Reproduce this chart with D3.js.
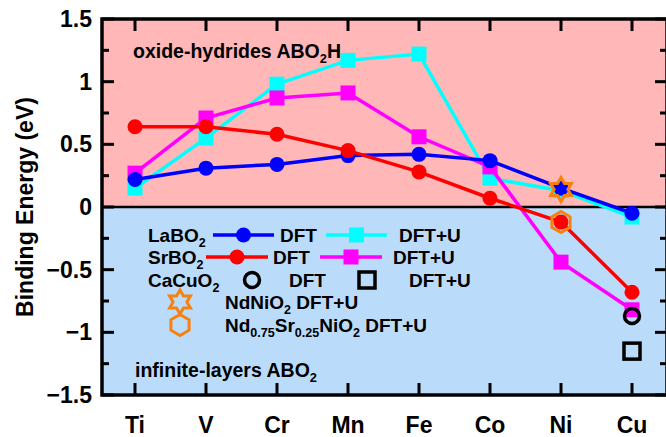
<!DOCTYPE html>
<html>
<head>
<meta charset="utf-8">
<script src="https://cdn.jsdelivr.net/npm/d3@7"></script>
<style>
  body { margin: 0; background: #fff; }
  svg text { font-family: "Liberation Sans", Arial, sans-serif; font-weight: bold; fill: #000; }
</style>
</head>
<body>
<div id="chart"></div>
<script>
// chart values
let elements = ["Ti", "V", "Cr", "Mn", "Fe", "Co", "Ni", "Cu"];
let laDFT  = [0.22, 0.31, 0.34, 0.41, 0.42, 0.37, 0.15, -0.05];
let laDFTU = [0.15, 0.55, 0.98, 1.17, 1.22, 0.23, 0.13, -0.08];
let srDFT  = [0.64, 0.64, 0.58, 0.45, 0.28, 0.07, -0.12, -0.68];
let srDFTU = [0.27, 0.71, 0.87, 0.91, 0.56, 0.32, -0.44, -0.82];
let caCuO2 = [{el: "Cu", dft: -0.87, dftu: -1.15}];
let ndNiO2 = [{el: "Ni", v: 0.14}];
let ndSrNiO2 = [{el: "Ni", v: -0.12}];
let yTicks = [-1.5, -1, -0.5, 0, 0.5, 1, 1.5];

let svgWidth = 666, svgHeight = 437;
let plot = {left: 102, right: 667, top: 19, bottom: 395};

let svg = d3.select("#chart").append("svg")
    .attr("width", svgWidth)
    .attr("height", svgHeight);

let x = d3.scaleLinear().domain([0, elements.length - 1]).range([135, 632]);
let y = d3.scaleLinear().domain([-1.5, 1.5]).range([plot.bottom, plot.top]);
let xi = el => x(elements.indexOf(el));

// background regions
svg.append("rect")
    .attr("x", plot.left).attr("y", y(1.5))
    .attr("width", plot.right - plot.left).attr("height", y(0) - y(1.5))
    .attr("fill", "#ffb7b7");
svg.append("rect")
    .attr("x", plot.left).attr("y", y(0))
    .attr("width", plot.right - plot.left).attr("height", y(-1.5) - y(0))
    .attr("fill", "#bbdbfb");
svg.append("line")
    .attr("x1", plot.left).attr("x2", plot.right)
    .attr("y1", y(0)).attr("y2", y(0))
    .attr("stroke", "#000").attr("stroke-width", 2.5);

// text with subscripts: parts = [[text, sub?], ...]
function richText(g, tx, ty, size, parts) {
    let t = g.append("text").attr("x", tx).attr("y", ty).attr("font-size", size);
    let down = false;
    parts.forEach(p => {
        let s = t.append("tspan").text(p[0]);
        if (p[1] && !down) { s.attr("dy", size * 0.24).attr("font-size", size * 0.66); down = true; }
        else if (p[1]) { s.attr("font-size", size * 0.66); }
        else if (down) { s.attr("dy", -size * 0.24); down = false; }
    });
    return t;
}

richText(svg, 133, 58, 19.5, [["oxide-hydrides ABO"], ["2", true], ["H"]]);
richText(svg, 135, 377, 19.5, [["infinite-layers ABO"], ["2", true]]);

// series
function drawSeries(vals, color, marker) {
    let pts = vals.map((v, i) => [x(i), y(v)]);
    svg.append("path")
        .attr("d", d3.line()(pts))
        .attr("fill", "none")
        .attr("stroke", color)
        .attr("stroke-width", 3.5);
    if (marker === "circle") {
        svg.selectAll(null).data(pts).enter().append("circle")
            .attr("cx", d => d[0]).attr("cy", d => d[1]).attr("r", 7.5)
            .attr("fill", color);
    } else {
        svg.selectAll(null).data(pts).enter().append("rect")
            .attr("x", d => d[0] - 7.5).attr("y", d => d[1] - 7.5)
            .attr("width", 15).attr("height", 15)
            .attr("fill", color);
    }
}

drawSeries(laDFTU, "#00ffff", "square");
drawSeries(srDFTU, "#ff00ff", "square");
drawSeries(laDFT, "#0000ff", "circle");
drawSeries(srDFT, "#ff0000", "circle");

let orange = "#f7810f";
function starPath(cx, cy, r) {
    let pts = [];
    for (let k = 0; k < 12; k++) {
        let a = -Math.PI / 2 + k * Math.PI / 6;
        let rr = k % 2 === 0 ? r : r / Math.sqrt(3);
        pts.push([cx + rr * Math.cos(a), cy + rr * Math.sin(a)]);
    }
    return "M" + pts.join("L") + "Z";
}
function hexPath(cx, cy, r) {
    let pts = [];
    for (let k = 0; k < 6; k++) {
        let a = -Math.PI / 2 + k * Math.PI / 3;
        pts.push([cx + r * Math.cos(a), cy + r * Math.sin(a)]);
    }
    return "M" + pts.join("L") + "Z";
}
function drawCa(cx, cyC, cyS) {
    svg.append("circle").attr("cx", cx).attr("cy", cyC).attr("r", 7.5)
        .attr("fill", "none").attr("stroke", "#000").attr("stroke-width", 3.5);
    svg.append("rect").attr("x", cx - 8).attr("y", cyS - 8).attr("width", 16).attr("height", 16)
        .attr("fill", "none").attr("stroke", "#000").attr("stroke-width", 3.5);
}

caCuO2.forEach(d => drawCa(xi(d.el), y(d.dft), y(d.dftu)));
ndNiO2.forEach(d => svg.append("path").attr("d", starPath(xi(d.el), y(d.v), 12))
    .attr("fill", "none").attr("stroke", orange).attr("stroke-width", 3));
ndSrNiO2.forEach(d => svg.append("path").attr("d", hexPath(xi(d.el), y(d.v), 10.5))
    .attr("fill", "none").attr("stroke", orange).attr("stroke-width", 3));

// axes ticks (inward) and frame
let tickG = svg.append("g").attr("stroke", "#000").attr("stroke-width", 3);
elements.forEach((el, i) => {
    tickG.append("line").attr("x1", x(i)).attr("x2", x(i)).attr("y1", plot.bottom).attr("y2", plot.bottom - 12);
    tickG.append("line").attr("x1", x(i)).attr("x2", x(i)).attr("y1", plot.top).attr("y2", plot.top + 12);
});
d3.range(-1.5, 1.51, 0.25).forEach(v => {
    let len = Math.abs(v * 2 - Math.round(v * 2)) < 1e-6 ? 12 : 7;
    tickG.append("line").attr("x1", plot.left).attr("x2", plot.left + len).attr("y1", y(v)).attr("y2", y(v));
    tickG.append("line").attr("x1", plot.right).attr("x2", plot.right - len).attr("y1", y(v)).attr("y2", y(v));
});
svg.append("rect")
    .attr("x", plot.left).attr("y", plot.top)
    .attr("width", plot.right - plot.left).attr("height", plot.bottom - plot.top)
    .attr("fill", "none").attr("stroke", "#000").attr("stroke-width", 3.5);

// tick labels
svg.selectAll(".ylab").data(yTicks).enter().append("text")
    .attr("x", 92).attr("y", d => y(d) + 8)
    .attr("text-anchor", "end").attr("font-size", 23)
    .text(d => d < 0 ? "\u2212" + Math.abs(d) : d);
svg.selectAll(".xlab").data(elements).enter().append("text")
    .attr("x", (d, i) => x(i)).attr("y", 433)
    .attr("text-anchor", "middle").attr("font-size", 23)
    .text(d => d);
svg.append("text")
    .attr("transform", `translate(33, ${(plot.top + plot.bottom) / 2}) rotate(-90)`)
    .attr("text-anchor", "middle").attr("font-size", 23)
    .text("Binding Energy (eV)");

// legend
let leg = svg.append("g");
function legLine(x1, x2, cy, color, marker) {
    leg.append("line").attr("x1", x1).attr("x2", x2).attr("y1", cy).attr("y2", cy)
        .attr("stroke", color).attr("stroke-width", 3.5);
    let cx = (x1 + x2) / 2;
    if (marker === "circle") leg.append("circle").attr("cx", cx).attr("cy", cy).attr("r", 7.5).attr("fill", color);
    else leg.append("rect").attr("x", cx - 7.5).attr("y", cy - 7.5).attr("width", 15).attr("height", 15).attr("fill", color);
}
richText(leg, 148, 242, 19, [["LaBO"], ["2", true]]);
legLine(213, 274, 235, "#0000ff", "circle");
richText(leg, 280, 242, 19, [["DFT"]]);
legLine(326, 387, 235, "#00ffff", "square");
richText(leg, 399, 242, 19, [["DFT+U"]]);

richText(leg, 148, 264, 19, [["SrBO"], ["2", true]]);
legLine(206, 268, 257, "#ff0000", "circle");
richText(leg, 273, 264, 19, [["DFT"]]);
legLine(320, 382, 257, "#ff00ff", "square");
richText(leg, 393, 264, 19, [["DFT+U"]]);

richText(leg, 148, 287, 19, [["CaCuO"], ["2", true]]);
leg.append("circle").attr("cx", 252).attr("cy", 280).attr("r", 7.5)
    .attr("fill", "none").attr("stroke", "#000").attr("stroke-width", 3.5);
richText(leg, 289, 287, 19, [["DFT"]]);
leg.append("rect").attr("x", 359).attr("y", 272).attr("width", 16).attr("height", 16)
    .attr("fill", "none").attr("stroke", "#000").attr("stroke-width", 3.5);
richText(leg, 409, 287, 19, [["DFT+U"]]);

leg.append("path").attr("d", starPath(180, 302, 12))
    .attr("fill", "none").attr("stroke", orange).attr("stroke-width", 3);
richText(leg, 225, 309, 19, [["NdNiO"], ["2", true], [" DFT+U"]]);

leg.append("path").attr("d", hexPath(180, 325, 10.5))
    .attr("fill", "none").attr("stroke", orange).attr("stroke-width", 3);
richText(leg, 225, 332, 19, [["Nd"], ["0.75", true], ["Sr"], ["0.25", true], ["NiO"], ["2", true], [" DFT+U"]]);
</script>
</body>
</html>
